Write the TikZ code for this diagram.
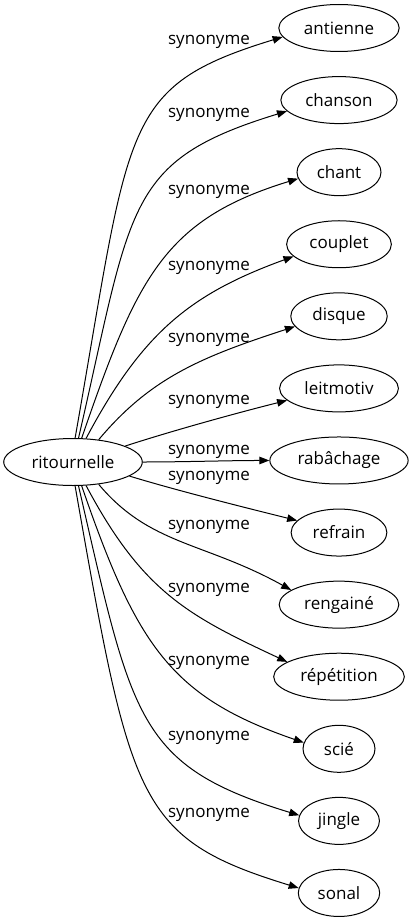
\documentclass[tikz,border=0pt]{standalone}
\usepackage{fontspec}
\setmainfont{Open Sans}
\usetikzlibrary{shapes.geometric,arrows.meta}
\tikzstyle{word}=[draw, ellipse, line width=1pt, inner xsep=7.5pt, inner ysep=2pt, minimum width=72pt, minimum height=47pt]
\tikzstyle{synlabel}=[inner sep=0pt]
\tikzstyle{synedge}=[line width=1pt, -{Triangle[length=10pt,width=7.5pt]}]
\newcommand{\drawsyn}[9]{
\pgfmathsetmacro{\rowy}{-28-72.08*#1}
\node[word] (w#1) at (339,\rowy) {#2};
\node[synlabel] (l#1) at (209,-#9) {synonyme};
\draw[synedge] (r.#3) to[out=#4, out distance=#5pt, in=#6, in distance=#7pt] (w#1.#8);
}

\begin{document}
\begin{tikzpicture}[x=1pt,y=1pt,font=\fontsize{17}{20}\selectfont]
	\useasboundingbox (0,0) rectangle (416,-923);
	\node[word] (r) at (73,-462) {ritournelle};
	% row, word, tail anchor, out, out dist, in, in dist, head anchor, label y
	\drawsyn{0}{antienne}{85}{80}{320}{197}{170}{189}{42}
	\drawsyn{1}{chanson}{77}{77}{240}{197}{170}{192}{115}
	\drawsyn{2}{chant}{70}{71}{170}{197}{140}{189}{192}
	\drawsyn{3}{couplet}{61}{62}{120}{200}{110}{195}{268}
	\drawsyn{4}{disque}{41}{50}{80}{198}{100}{193}{340}
	\drawsyn{5}{leitmotiv}{17}{18}{50}{194}{50}{193}{402}
	\drawsyn{6}{rabâchage}{0}{0}{40}{180}{40}{180}{452}
	\drawsyn{7}{refrain}{-14}{-17}{50}{166}{50}{164}{478}
	\drawsyn{8}{rengainé}{-41}{-50}{80}{151}{100}{163}{527}
	\drawsyn{9}{répétition}{-61}{-62}{120}{155}{110}{164}{590}
	\drawsyn{10}{scié}{-70}{-71}{170}{161}{140}{170}{663}
	\drawsyn{11}{jingle}{-77}{-77}{240}{163}{170}{172}{738}
	\drawsyn{12}{sonal}{-85}{-80}{320}{163}{170}{173}{815}
\end{tikzpicture}
\end{document}
